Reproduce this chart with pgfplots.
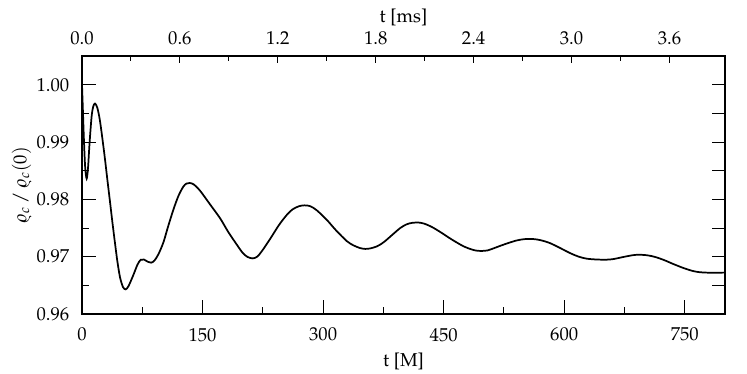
\documentclass[border=0pt]{standalone}
\usepackage[T1]{fontenc}
\usepackage{mathpazo}
\usepackage{pgfplots}
\pgfplotsset{compat=1.18}

\pgfplotsset{
  common/.style={
    width=482.25pt, height=193.5pt, scale only axis,
    tick align=inside,
    tick style={black, line width=0.7pt},
    tick label style={font=\fontsize{14}{16}\selectfont},
    label style={font=\fontsize{14}{16}\selectfont},
    ymin=0.96, ymax=1.005,
  }
}

\begin{document}
\begin{tikzpicture}
  \path[use as bounding box] (-61.5pt,-45pt) rectangle (498.75pt,235.5pt);

  % bottom / left: the data
  \begin{axis}[
    common,
    xmin=0, xmax=800,
    axis line style={line width=1.4pt},
    xtick={0,150,...,750}, minor x tick num=1,
    ytick={0.96,0.97,0.98,0.99,1.00}, minor y tick num=1,
    xtick pos=bottom, ytick pos=left,
    major tick length=10.5pt, minor tick length=5.25pt,
    yticklabel style={xshift=-6pt, /pgf/number format/.cd, fixed, fixed zerofill, precision=2},
    xticklabel style={yshift=-7pt},
    xlabel={t [M]},
    ylabel={$\varrho_c\,/\,\varrho_c(0)$},
    xlabel style={yshift=-2pt},
    ylabel style={yshift=-3pt},
  ]
    \addplot[black, line width=1.3pt, smooth, tension=0.5] coordinates {
      (0,1.000) (1,0.9960) (2.5,0.9900) (4,0.9855) (5.8,0.9836) (7.5,0.9855)
      (9.5,0.9900) (12,0.9945) (14,0.9962) (16.2,0.9967) (19,0.9960)
      (22,0.9940) (25,0.9910) (28.6,0.9870) (31.5,0.9835) (34.9,0.9795)
      (38,0.9758) (41.1,0.9723) (44,0.9692) (47.3,0.9664) (51,0.9647)
      (54.4,0.9643) (58,0.9649) (63.9,0.9668) (69,0.9686) (73,0.96945)
      (77,0.96950) (82,0.9691) (86,0.96895) (90,0.9693) (95,0.9704)
      (101.3,0.9725) (107,0.9752) (113.7,0.9782) (120,0.9806)
      (126,0.9822) (130,0.98275) (134,0.98285) (139,0.9826) (146.9,0.9815)
      (159.4,0.9791) (171.8,0.9767) (182,0.9743) (192.6,0.9721) (200,0.97065)
      (206,0.96995) (212.5,0.96970) (218,0.9700) (224,0.9710) (234.1,0.9731)
      (245,0.9755) (254.9,0.9773) (262,0.97825) (270,0.9788) (277,0.97895)
      (284,0.9788) (292,0.9781) (304.7,0.9764) (316,0.9746) (329.6,0.9727)
      (338,0.97195) (346,0.97150) (352.4,0.97135) (359,0.97145) (367,0.9718)
      (375.2,0.9725) (386,0.9738) (396,0.9750) (404,0.97565) (411,0.97590)
      (418.8,0.97595) (426,0.97575) (435,0.9752) (445.8,0.9743) (460,0.9730)
      (474.8,0.9718) (485,0.97125) (491,0.97105) (497.7,0.97100) (505,0.9711)
      (513,0.9715) (524.6,0.9721) (540,0.9728) (550,0.97305) (557.8,0.97310)
      (566,0.97300) (574,0.97275) (582.7,0.97234) (595,0.9715) (607.6,0.9706)
      (618,0.9700) (628,0.96965) (640.9,0.96950) (653.3,0.96948) (662,0.9696)
      (672,0.9699) (685,0.97025) (692,0.97033) (698.9,0.97030) (705,0.9702)
      (713,0.96995) (723.8,0.96943) (736,0.9687) (748.7,0.96800) (760,0.96750)
      (768,0.96730) (776,0.96722) (786,0.96720) (800,0.96722)
    };
  \end{axis}

  % top axis in ms
  \begin{axis}[
    common,
    xmin=0, xmax=3.9404,
    hide y axis,
    axis x line*=top,
    axis line style={line width=1.4pt},
    xtick={0,0.6,...,3.6}, minor x tick num=1,
    major tick length=5pt, minor tick length=3.5pt,
    xticklabel style={yshift=5pt, /pgf/number format/.cd, fixed, fixed zerofill, precision=1},
    xlabel={t [ms]},
    xlabel style={yshift=-3pt},
  ]
  \end{axis}

  % right ticks
  \begin{axis}[
    common,
    xmin=0, xmax=800,
    hide x axis,
    axis y line*=right,
    axis line style={line width=1.4pt},
    ytick={0.96,0.965,0.97,0.975,0.98,0.985,0.99,0.995,1.0},
    yticklabels={},
    major tick length=9.5pt,
  ]
  \end{axis}
\end{tikzpicture}
\end{document}
